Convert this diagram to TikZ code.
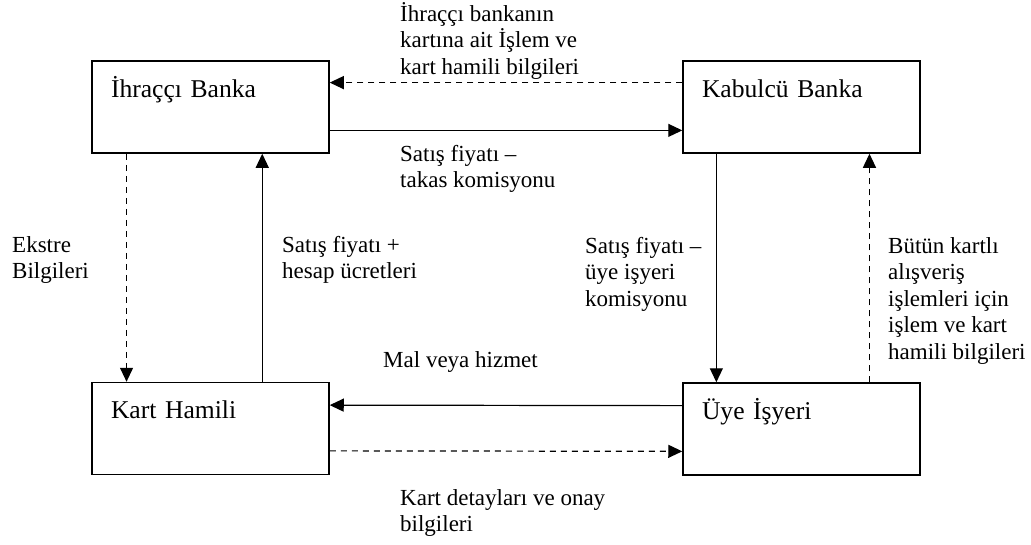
\documentclass[tikz,border=0pt]{standalone}
\usepackage{fontspec}
\setmainfont{Liberation Serif}
\usetikzlibrary{arrows.meta,calc}
\newcommand{\fl}{\rule{0pt}{21pt}}
\begin{document}
\begin{tikzpicture}[x=1pt,y=-1pt,
  box/.style={draw,line width=1.5pt,rectangle,inner xsep=19pt,inner ysep=0pt,
    text width=199pt,align=left,text height=36pt,text depth=56pt,
    font=\fontsize{25.6}{29}\selectfont},
  lab/.style={anchor=north west,inner sep=0pt,align=left,
    font=\fontsize{23}{26.5}\selectfont},
  conn/.style={line width=1.2pt,-{Triangle[length=14pt,width=13pt]}},
  dconn/.style={conn,dash pattern=on 6pt off 5pt}]
\useasboundingbox (0,0) rectangle (1031,544);
\node[box] (ihr) at (210.5,107) {İhraççı Banka};
\node[box] (kab) at (801.5,107) {Kabulcü Banka};
\node[box] (kh) at (210.5,428.5) {Kart Hamili};
\node[box] (uye) at (801.5,429) {Üye İşyeri};

\draw[dconn] ($(kab.north west)!0.239!(kab.south west)$) -- ($(ihr.north east)!0.239!(ihr.south east)$);
\draw[conn] ($(ihr.north east)!0.75!(ihr.south east)$) -- ($(kab.north west)!0.75!(kab.south west)$);
\draw[dconn] ($(ihr.south west)!0.148!(ihr.south east)$) -- ($(kh.north west)!0.148!(kh.north east)$);
\draw[conn] ($(kh.north west)!0.717!(kh.north east)$) -- ($(ihr.south west)!0.717!(ihr.south east)$);
\draw[conn] ($(kab.south west)!0.143!(kab.south east)$) -- ($(uye.north west)!0.143!(uye.north east)$);
\draw[dconn] ($(uye.north west)!0.785!(uye.north east)$) -- ($(kab.south west)!0.785!(kab.south east)$);
\draw[conn] ($(uye.north west)!0.25!(uye.south west)$) -- ($(kh.north east)!0.25!(kh.south east)$);
\draw[dconn] ($(kh.north east)!0.739!(kh.south east)$) -- ($(uye.north west)!0.739!(uye.south west)$);

\node[lab] (t1) at (400,0) {\fl İhraççı bankanın\\kartına ait İşlem ve\\kart hamili bilgileri};
\node[lab] (t2) at (400,140) {\fl Satış fiyatı –\\takas komisyonu};
\node[lab] (t3) at (12,231) {\fl Ekstre\\Bilgileri};
\node[lab] (t4) at (282,231) {\fl Satış fiyatı +\\hesap ücretleri};
\node[lab] (t5) at (585,232) {\fl Satış fiyatı –\\üye işyeri\\komisyonu};
\node[lab] (t6) at (888,232) {\fl Bütün kartlı\\alışveriş\\işlemleri için\\işlem ve kart\\hamili bilgileri};
\node[lab] (t7) at (383,346) {\fl Mal veya hizmet};
\node[lab] (t8) at (400,484) {\fl Kart detayları ve onay\\bilgileri};
\end{tikzpicture}
\end{document}
